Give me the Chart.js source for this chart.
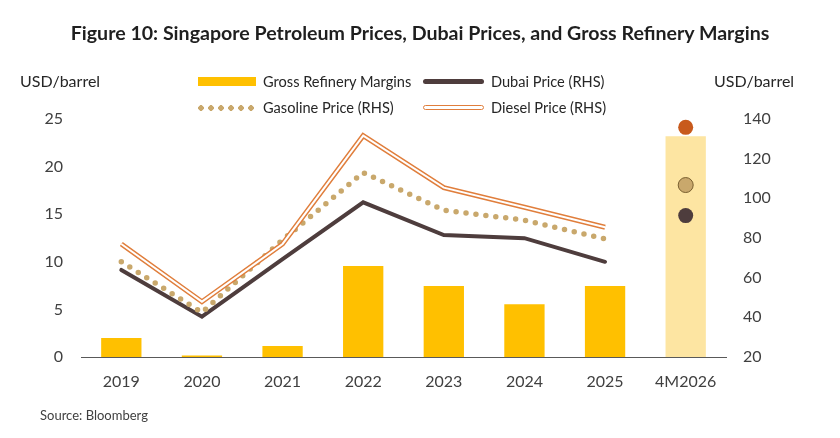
<!DOCTYPE html>
<html lang="en">
<head>
  <meta charset="UTF-8">
  <title>Figure 10</title>
  <style>
    body { margin: 0; background: #fff; font-family: Lato, "Open Sans", sans-serif; color: #262626; }
    .wrap { position: relative; width: 840px; height: 438px; overflow: hidden; }
    canvas { position: absolute; left: 0; top: 0; }
    .title { position: absolute; left: 0; width: 840px; top: 20px; text-align: center; font-weight: bold; font-size: 19.6px; line-height: 26px; color: #1f1f1f; }
    .unit { position: absolute; top: 71px; font-size: 16px; }
    .source { position: absolute; left: 40px; top: 407px; font-size: 13px; color: #404040; }
    .leg { position: absolute; font-size: 14.6px; display: flex; align-items: center; }
    .sw { width: 58px; height: 9px; margin-right: 7px; box-sizing: border-box; }
  </style>
</head>
<body>
<div class="wrap">
  <canvas id="chart" width="840" height="438"></canvas>
  <div class="title">Figure 10: Singapore Petroleum Prices, Dubai Prices, and Gross Refinery Margins</div>
  <div class="unit" style="left:20px">USD/barrel</div>
  <div class="unit" style="left:714px">USD/barrel</div>
  <div class="leg" style="left:198px;top:73px"><div class="sw" style="background:#FFC000"></div>Gross Refinery Margins</div>
  <div class="leg" style="left:423px;top:73px"><div class="sw" style="height:5px;width:61px;border-radius:3px;background:#4E3D3D"></div>Dubai Price (RHS)</div>
  <div class="leg" style="left:196px;top:99px"><div class="sw" style="height:6px;width:60px;background:radial-gradient(circle, #C9A86C 2.6px, transparent 3px) 0 0/10px 6px repeat-x"></div>Gasoline Price (RHS)</div>
  <div class="leg" style="left:423px;top:99px"><div class="sw" style="height:5px;width:61px;border:1.5px solid #E07E3C;border-radius:3px;background:#fff"></div>Diesel Price (RHS)</div>
  <div class="source">Source: Bloomberg</div>
</div>

<script src="https://cdn.jsdelivr.net/npm/chart.js"></script>
<script>
  // categories
  const years = ['2019', '2020', '2021', '2022', '2023', '2024', '2025', '4M2026'];

  // left axis: gross refinery margins (USD/barrel)
  const refineryMargins = [2.0, 0.15, 1.15, 9.55, 7.45, 5.55, 7.45, 23.2];

  // right axis: prices (USD/barrel), last value is the 4M2026 point
  const dubaiPrice    = [63.9, 40.3, 69.4, 98.0, 81.5, 79.9, 68.0, 91.3];
  const gasolinePrice = [68.0, 42.5, 79.0, 113.0, 94.0, 89.0, 79.5, 106.7];
  const dieselPrice   = [77.0, 47.9, 77.0, 131.6, 105.4, 95.5, 85.4, 135.8];

  // tick labels
  const leftTicks = [0, 5, 10, 15, 20, 25];
  const rightTicks = [20, 40, 60, 80, 100, 120, 140];

  const last = years.length - 1;
  const lineOnly = arr => arr.map((v, i) => i === last ? null : v);
  const pointOnly = arr => arr.map((v, i) => i === last ? v : null);

  const tickFont = { family: 'Lato', size: 16 };

  new Chart(document.getElementById('chart'), {
    data: {
      labels: years,
      datasets: [
        {
          type: 'bar',
          label: 'Gross Refinery Margins',
          data: refineryMargins,
          yAxisID: 'y',
          backgroundColor: years.map((y, i) => i === last ? '#FDE5A2' : '#FFC000'),
          barPercentage: 0.5,
          categoryPercentage: 1.0,
          order: 10
        },
        {
          type: 'line',
          label: 'Dubai Price (RHS)',
          data: lineOnly(dubaiPrice),
          yAxisID: 'y1',
          borderColor: '#4E3D3D',
          borderWidth: 4,
          borderJoinStyle: 'miter',
          borderCapStyle: 'round',
          pointRadius: 0,
          tension: 0,
          order: 5
        },
        {
          type: 'line',
          label: 'Gasoline Price (RHS)',
          data: lineOnly(gasolinePrice),
          yAxisID: 'y1',
          borderColor: '#C9A86C',
          borderWidth: 5.5,
          borderDash: [0, 10],
          borderCapStyle: 'round',
          pointRadius: 0,
          tension: 0,
          order: 4
        },
        {
          type: 'line',
          label: 'Diesel Price (RHS)',
          data: lineOnly(dieselPrice),
          yAxisID: 'y1',
          borderColor: '#E07E3C',
          borderWidth: 5,
          borderJoinStyle: 'miter',
          pointRadius: 0,
          tension: 0,
          order: 3
        },
        {
          type: 'line',
          label: 'Diesel inner',
          data: lineOnly(dieselPrice),
          yAxisID: 'y1',
          borderColor: '#ffffff',
          borderWidth: 2,
          borderJoinStyle: 'miter',
          pointRadius: 0,
          tension: 0,
          order: 2
        },
        {
          type: 'line',
          label: 'Dubai 4M2026',
          data: pointOnly(dubaiPrice),
          yAxisID: 'y1',
          showLine: false,
          pointRadius: 7.5,
          backgroundColor: '#4E3D3D',
          borderColor: '#4E3D3D',
          borderWidth: 0,
          order: 1
        },
        {
          type: 'line',
          label: 'Gasoline 4M2026',
          data: pointOnly(gasolinePrice),
          yAxisID: 'y1',
          showLine: false,
          pointRadius: 7.5,
          backgroundColor: '#C9A86C',
          borderColor: '#7A6030',
          borderWidth: 1,
          order: 1
        },
        {
          type: 'line',
          label: 'Diesel 4M2026',
          data: pointOnly(dieselPrice),
          yAxisID: 'y1',
          showLine: false,
          pointRadius: 7.5,
          backgroundColor: '#C85A1C',
          borderColor: '#C85A1C',
          borderWidth: 0,
          order: 1
        }
      ]
    },
    options: {
      responsive: false,
      animation: false,
      layout: { padding: { top: 119, left: 0, right: 0, bottom: 0 } },
      plugins: {
        legend: { display: false },
        tooltip: { enabled: false }
      },
      scales: {
        x: {
          offset: true,
          grid: { display: false, drawTicks: false },
          border: { display: true, color: '#595959', width: 1 },
          ticks: { font: tickFont, color: '#404040', padding: 15, maxRotation: 0 },
          afterFit: s => { s.height = 81; }
        },
        y: {
          position: 'left',
          min: 0, max: 25,
          afterBuildTicks: s => { s.ticks = leftTicks.map(v => ({ value: v })); },
          grid: { display: false, drawTicks: false },
          border: { display: false },
          ticks: { font: tickFont, color: '#404040', padding: 18 },
          afterFit: s => { s.width = 81; }
        },
        y1: {
          position: 'right',
          min: 20, max: 140,
          afterBuildTicks: s => { s.ticks = rightTicks.map(v => ({ value: v })); },
          grid: { display: false, drawTicks: false },
          border: { display: false },
          ticks: { font: tickFont, color: '#404040', padding: 17 },
          afterFit: s => { s.width = 114; }
        }
      }
    }
  });
</script>
</body>
</html>
